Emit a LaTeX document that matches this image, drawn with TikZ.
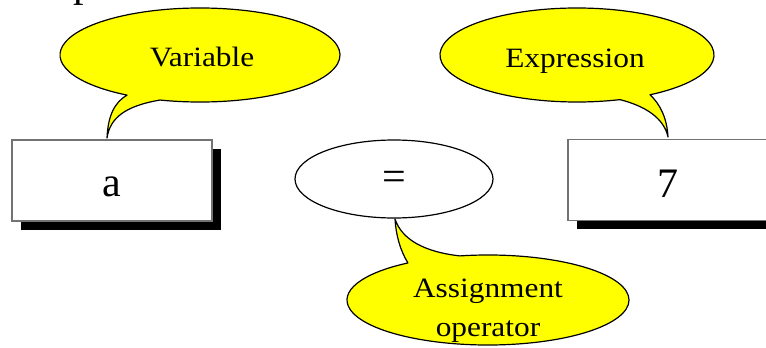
\documentclass[tikz,border=0pt]{standalone}
\usepackage{fontspec}
\setmainfont{Liberation Serif}
\newfontfamily\lbl[FakeStretch=1.12]{Liberation Serif}
\usetikzlibrary{shapes.geometric,shadows}
\definecolor{bubyellow}{RGB}{255,255,0}
\begin{document}
\begin{tikzpicture}[x=1pt,y=-1pt,
  bubble/.style={fill=bubyellow, draw=black, line width=1.2pt, line join=round},
  valbox/.style={draw=black!55, fill=white, line width=1.3pt, minimum width=200pt, minimum height=81pt,
    inner sep=0pt, drop shadow={shadow xshift=8.5pt, shadow yshift=-8.5pt, fill=black, opacity=1}},
  opell/.style={draw=black, fill=white, ellipse, line width=1.2pt, minimum width=198pt, minimum height=78pt, inner sep=0pt},
  bubtext/.style={font=\lbl\fontsize{28}{32}\selectfont, anchor=base, inner sep=0pt},
  bigtext/.style={font=\fontsize{42}{46}\selectfont, anchor=base, inner sep=0pt}]
\useasboundingbox (0,0) rectangle (766,348);
\clip (0,0) rectangle (766,348);
\fill[white] (0,0) rectangle (766,348);

% cut-off fragment of a title above the picture
\node[bigtext] (ttl) at (84,-4) {p};

% speech bubbles
\draw[bubble] (200,55) ++(106.6:140 and 47)
  arc[start angle=106.6, end angle=-238.6, x radius=140, y radius=47]
  .. controls (115,102) and (108,115) .. (107,138)
  .. controls (110,118) and (125,106) .. cycle;
\draw[bubble] (577,55) ++(57.8:137 and 47)
  arc[start angle=57.8, end angle=-288.3, x radius=137, y radius=47]
  .. controls (645,106) and (664,118) .. (668,137)
  .. controls (667,118) and (660,104) .. cycle;
\draw[bubble] (488,300) ++(-101.5:141 and 45)
  arc[start angle=-101.5, end angle=235.4, x radius=141, y radius=45]
  .. controls (400,250) and (396,235) .. (395,219)
  .. controls (402,240) and (425,252) .. cycle;

\node[bubtext] (var) at (202,66) {Variable};
\node[bubtext] (expr) at (575,67) {Expression};
\node[bubtext] (asg1) at (488,297) {Assignment};
\node[bubtext] (asg2) at (488,336) {operator};

% boxes and operator
\node[valbox] (boxa) at (112,180.5) {};
\node[valbox] (box7) at (668,180) {};
\node[opell] (eq) at (394,179) {};

\node[bigtext] (ta) at (112,196) {a};
\node[bigtext] (t7) at (668,197) {7};
\node[bigtext] (teq) at (394,190) {=};
\end{tikzpicture}
\end{document}
